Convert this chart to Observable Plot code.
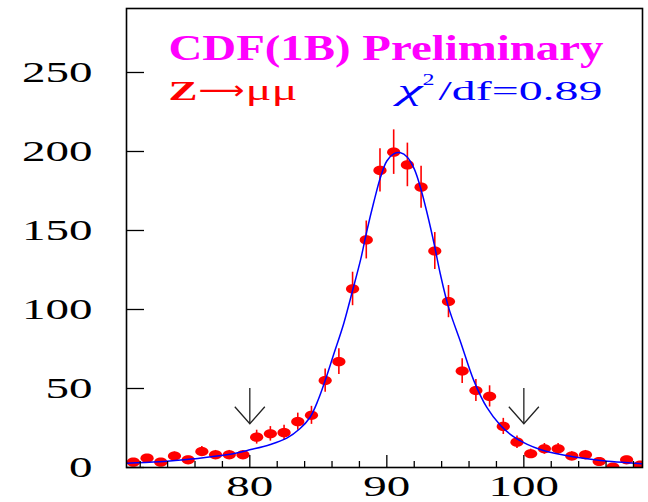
<!DOCTYPE html>
<html><head><meta charset="utf-8">
<script src="https://cdn.jsdelivr.net/npm/d3@7"></script>
<script src="https://cdn.jsdelivr.net/npm/@observablehq/plot@0.6"></script>
<style>body{margin:0;background:#fff}</style>
</head><body><div id="chart"></div>
<script>
// Data
const mass = [71.5,72.5,73.5,74.5,75.5,76.5,77.5,78.5,79.5,80.5,81.5,82.5,83.5,84.5,85.5,86.5,87.5,88.5,89.5,90.5,91.5,92.5,93.5,94.5,95.5,96.5,97.5,98.5,99.5,100.5,101.5,102.5,103.5,104.5,105.5,106.5,107.5,108.5];
const counts = [3.4,5.9,3.4,7.2,4.9,10.1,8,8,8,19.2,21.3,22,29,33,55,67,113,144,188,199.6,191.5,177.4,137,105,61,48.7,45,26,16,8.7,11.8,11.8,7.2,8,3.8,0.3,4.9,1.5];
const errors = [1.8,2.4,1.8,2.7,2.2,3.2,2.8,2.8,2.8,4.4,4.6,4.7,5.4,5.7,7.4,8.2,10.6,12,13.7,14.1,13.8,13.3,11.7,10.2,7.8,7,6.7,5.1,4,2.9,3.4,3.4,2.7,2.8,1.9,1,2.2,1.2];
const fitMass = [71.0,73.4,75.9,78.3,80.0,81.5,82.7,83.65,84.4,85.0,85.5,86.1,86.85,87.5,88.1,88.55,89.05,89.55,90.0,90.5,91.0,91.5,92.0,92.45,92.95,93.45,93.9,94.5,95.4,96.35,97.3,98.3,99.3,100.25,101.2,102.7,104.1,105.6,108.66];
const fitValue = [2.7,3.6,5.5,8.0,11.2,14.6,18.6,24.5,31.8,43,55,71,91,112,132,150,168,184,194,198.5,199.2,196.4,189,177.4,160.6,141.6,122.6,101.5,79,55,38,26.6,19.2,14.6,11.4,8.2,6.1,4.4,2.3];
const xMajorTicks = [80, 90, 100];
const xMinorTicks = [72,74,76,78,82,84,86,88,92,94,96,98,102,104,106,108];
const yTicks = [0, 50, 100, 150, 200, 250];
const arrowMass = [80, 100];
const arrowTop = [50, 50];
const arrowTip = [27.7, 27.7];
const titleText = "CDF(1B) Preliminary";
const channelZ = "Z";
const channelArrow = "⟶";
const channelMu = "μμ";
const chiSymbol = "χ";
const chiPower = "2";
const chiRest = "/df=0.89";

const points = mass.map((m, i) => ({mass: m, count: counts[i], err: errors[i]}));
const fit = fitMass.map((m, i) => ({mass: m, value: fitValue[i]}));
const arrows = arrowMass.map((m, i) => ({mass: m, top: arrowTop[i], tip: arrowTip[i]}));

const W = 648, H = 502, ML = 126, MR = 6, MT = 8, MB = 35;
const frameW = W - ML - MR, frameH = H - MT - MB;
const serif = "Liberation Serif, Times New Roman, serif";

const ellipse = {
  draw(ctx, size) {
    const rx = Math.sqrt(size / Math.PI), ry = rx * 0.7, kx = rx * 0.5523, ky = ry * 0.5523;
    ctx.moveTo(rx, 0);
    ctx.bezierCurveTo(rx, ky, kx, ry, 0, ry);
    ctx.bezierCurveTo(-kx, ry, -rx, ky, -rx, 0);
    ctx.bezierCurveTo(-rx, -ky, -kx, -ry, 0, -ry);
    ctx.bezierCurveTo(kx, -ry, rx, -ky, rx, 0);
    ctx.closePath();
  }
};
const chevron = {
  draw(ctx, size) {
    const r = Math.sqrt(size / Math.PI);
    ctx.moveTo(-r, -r * 1.13);
    ctx.lineTo(0, 0);
    ctx.lineTo(r, -r * 1.13);
  }
};

const note = (txt, dx, dy, o) => Plot.text([txt], {text: d => d, frameAnchor: "top-left", textAnchor: "start", lineAnchor: "bottom", dx, dy, fontFamily: serif, ...o});

const plot = Plot.plot({
  width: W, height: H,
  marginLeft: ML, marginRight: MR, marginTop: MT, marginBottom: MB,
  style: {fontFamily: serif, background: "#fff", overflow: "visible"},
  x: {domain: [71, 108.66], axis: null, label: null},
  y: {domain: [0, 290.5], axis: null, label: null},
  marks: [
    Plot.ruleX(points, {x: "mass", y1: d => d.count - d.err, y2: d => d.count + d.err, stroke: "#ff0000", strokeWidth: 1.6, clip: "frame"}),
    Plot.dot(points, {x: "mass", y: "count", r: 6.6, symbol: ellipse, fill: "#ff0000", stroke: "none", clip: "frame"}),
    Plot.line(fit, {x: "mass", y: "value", stroke: "#0000ff", strokeWidth: 1.5, curve: "catmull-rom", clip: "frame"}),
    Plot.ruleX(arrows, {x: "mass", y1: "tip", y2: "top", stroke: "#222", strokeWidth: 1.3}),
    Plot.dot(arrows, {x: "mass", y: "tip", r: 15, symbol: chevron, fill: "none", stroke: "#222", strokeWidth: 1.3}),
    Plot.tickX(xMinorTicks, {x: d => d, stroke: "#000", strokeWidth: 1.3, insetTop: frameH - 6}),
    Plot.tickX(xMajorTicks, {x: d => d, stroke: "#000", strokeWidth: 1.3, insetTop: frameH - 12}),
    Plot.tickY(yTicks, {y: d => d, stroke: "#000", strokeWidth: 1.3, insetRight: frameW - 18}),
    Plot.frame({stroke: "#000", strokeWidth: 1.6}),
    Plot.text(yTicks, {y: d => d, text: d => String(d), frameAnchor: "left", textAnchor: "end", dx: -34, fontSize: 30, fontFamily: serif, fill: "#000"}),
    Plot.text(xMajorTicks, {x: d => d, text: d => String(d), frameAnchor: "bottom", lineAnchor: "top", dy: 7, fontSize: 30, fontFamily: serif, fill: "#000"}),
    note(titleText, 42, 51, {fontSize: 35, fontWeight: "bold", fill: "#ff00ff"}),
    note(channelZ, 42, 91, {fontSize: 27, fontWeight: "bold", fill: "#ff0000"}),
    note(channelArrow, 72, 90, {fontSize: 26, fontFamily: "DejaVu Sans", fill: "#ff0000"}),
    note(channelMu, 119, 91, {fontSize: 30, fill: "#ff0000"}),
    note(chiSymbol, 271, 91, {fontSize: 30, fontStyle: "italic", fill: "#0000ff"}),
    note(chiPower, 296, 76, {fontSize: 17, fill: "#0000ff"}),
    note(chiRest, 312, 91, {fontSize: 27, fill: "#0000ff"})
  ]
});
document.getElementById("chart").append(plot);

// horizontal stretch of the lettering, as in the reference
const targets = new Map([[titleText, 435], [channelZ, 29], [channelArrow, 46], [channelMu, 52], [chiSymbol, 25], [chiPower, 12], [chiRest, 164]]);
plot.querySelectorAll("text").forEach(t => {
  const c = t.textContent;
  let s = null;
  if (targets.has(c)) s = targets.get(c) / t.getComputedTextLength();
  else if (/^\d+$/.test(c)) s = 23.5 * c.length / t.getComputedTextLength();
  if (s) t.setAttribute("transform", (t.getAttribute("transform") || "") + ` scale(${s},1)`);
});
</script>
</body></html>
